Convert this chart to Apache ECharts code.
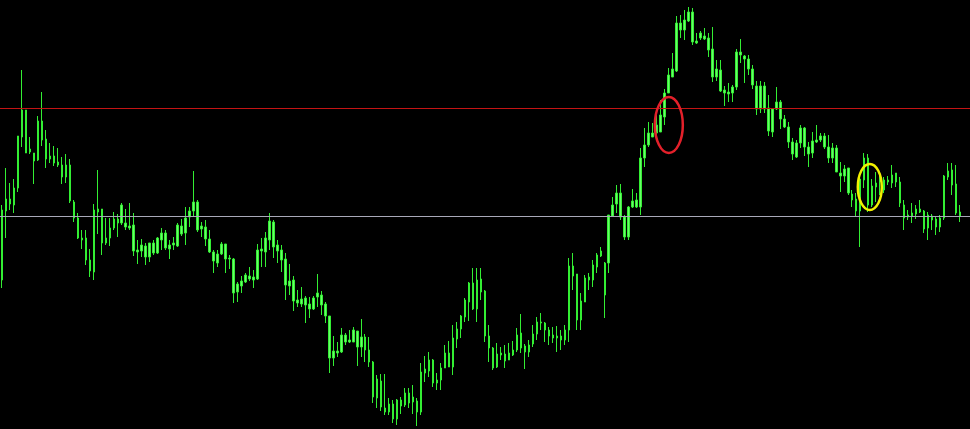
<!DOCTYPE html>
<html>
<head>
<meta charset="utf-8">
<script src="https://cdn.jsdelivr.net/npm/echarts@6/dist/echarts.min.js"></script>
<style>
html,body{margin:0;padding:0;background:#000;}
#chart{width:970px;height:429px;}
</style>
</head>
<body>
<div id="chart"></div>
<script>
// Candle values (price units, higher = up)
const open = [
149,218,225,224,241,292,319,280,276,269,
308,290,270,273,267,264,252,264,227,211,
191,191,169,157,217,220,186,191,201,210,
206,206,203,204,179,178,183,172,176,176,
189,196,180,184,183,203,196,212,218,227,
200,202,190,177,166,175,185,170,170,137,
143,147,153,149,150,178,177,189,207,184,
179,170,143,149,129,125,131,125,120,132,
134,125,113,71,78,77,94,87,87,98,
82,92,79,67,31,48,21,17,25,10,
29,24,36,27,28,17,56,58,69,46,
49,61,76,62,90,100,112,127,146,120,
150,138,93,81,62,74,75,69,74,79,
96,83,77,85,95,107,106,99,94,91,
93,89,99,163,155,109,127,149,149,162,
173,166,166,213,225,236,212,192,222,229,
222,271,284,296,296,297,312,336,352,358,
406,399,408,417,388,391,393,391,380,352,
359,339,335,336,342,377,373,370,360,343,
320,343,321,297,320,327,310,302,287,272,
286,301,282,276,287,289,293,282,271,281,
256,253,261,235,230,218,249,271,224,242,
247,249,247,246,247,247,224,212,216,215,
220,218,201,213,210,202,211,252,259,245,217
];
const close = [
219,230,230,241,293,319,276,277,268,308,
289,270,273,266,264,252,264,228,211,191,
189,169,158,219,220,186,191,201,210,206,
224,202,201,178,177,184,172,186,186,191,
196,181,184,186,204,195,211,218,227,199,
203,190,177,168,175,185,170,171,136,145,
148,154,150,152,179,180,191,208,182,178,
169,144,148,128,126,130,124,120,131,136,
124,113,71,78,76,94,87,89,99,82,
92,79,67,32,50,22,17,25,10,29,
23,36,26,32,17,57,60,69,46,49,
61,76,62,91,100,113,129,146,120,149,
137,93,81,61,75,76,68,76,79,94,
81,77,84,95,107,106,99,93,91,93,
89,99,163,153,109,128,151,152,164,174,
178,134,214,224,236,212,192,222,228,222,
271,284,296,292,304,314,336,354,360,406,
399,409,417,387,386,396,390,379,352,360,
338,336,337,342,377,374,370,360,344,320,
343,320,298,320,327,310,302,287,275,286,
301,282,275,288,289,293,282,271,281,257,
253,260,236,229,218,250,271,224,243,246,
249,239,249,254,256,226,211,214,213,220,
217,200,214,209,202,211,253,258,244,216,213
];
const low = [
141,191,219,216,237,282,276,275,245,268,
283,261,266,263,262,245,246,226,207,190,
180,164,152,149,195,174,184,183,199,192,
204,199,199,173,165,172,164,167,174,175,
179,179,170,179,182,193,184,202,212,197,
192,183,176,156,162,174,156,160,126,127,
136,146,148,141,149,162,162,179,171,166,
157,129,134,118,122,122,106,111,119,122,
114,106,56,63,72,76,84,86,87,63,
72,67,62,26,21,18,14,14,6,4,
15,22,21,15,3,14,47,52,42,39,
39,64,63,54,81,91,107,108,119,107,
129,87,67,59,61,69,61,69,73,77,
76,60,72,82,89,99,87,84,86,77,
79,84,87,139,99,99,127,139,142,156,
172,111,156,212,216,209,189,189,221,221,
214,262,282,292,292,297,304,336,352,357,
391,389,407,384,385,389,389,372,347,348,
337,323,327,327,339,366,346,354,340,314,
316,316,293,292,319,300,301,281,269,271,
281,273,262,271,286,287,280,266,266,257,
237,247,234,222,212,182,241,217,222,227,
234,236,244,241,242,222,199,209,206,210,
216,196,189,199,194,197,209,249,234,214,207
];
const high = [
224,261,246,250,293,359,319,292,276,313,
337,299,286,283,281,272,275,270,229,216,
199,199,180,225,259,220,211,211,217,215,
226,220,226,216,189,190,186,186,189,192,
201,199,189,192,206,210,222,222,258,229,
207,209,199,179,179,187,185,174,171,147,
153,156,162,159,185,191,197,216,209,189,
184,176,165,153,139,142,133,132,133,155,
138,127,113,93,87,101,96,99,102,98,
110,95,92,68,54,55,55,31,29,30,
32,41,41,44,31,66,73,77,70,56,
66,84,88,104,107,114,131,147,161,161,
161,139,104,82,86,82,84,86,88,101,
115,85,89,104,112,116,107,102,102,103,
99,104,171,176,155,136,154,156,169,176,
182,167,214,232,244,245,214,223,240,236,
281,301,307,306,314,329,340,361,376,413,
414,419,422,421,396,398,401,396,402,369,
369,343,346,344,380,390,374,374,364,348,
348,347,334,321,342,329,314,307,291,289,
304,302,287,297,304,296,296,294,286,284,
267,264,261,239,236,253,276,275,250,257,
256,252,253,264,256,252,229,219,226,224,
229,219,217,215,212,214,254,266,266,264,224
];
// two trailing empty slots (chart shift on the right)
const categories = open.map((_, i) => 'Bar ' + (i + 1)).concat(['', ' ']);

// Horizontal levels
const resistanceLevel = 320.5;
const supportLevel = 213;

// Ellipse annotations
const annotations = [
  {bar: 167, price: 304, dx: 0.2, rx: 14, ry: 28, color: '#e3202a'},
  {bar: 217, price: 242, dx: 1.6, rx: 12, ry: 23, color: '#f2f000'}
];

const candleData = open.map((o, i) => [o, close[i], low[i], high[i]]);

const chart = echarts.init(document.getElementById('chart'), null, {renderer: 'canvas'});
const option = {
  backgroundColor: '#000000',
  animation: false,
  grid: {left: -2.7, right: 0, top: 0, bottom: 0, containLabel: false},
  xAxis: {
    type: 'category', data: categories, boundaryGap: true,
    show: false
  },
  yAxis: {
    type: 'value', min: 0, max: 429, show: false, splitLine: {show: false}
  },
  series: [{
    type: 'candlestick',
    data: candleData,
    barWidth: 2,
    itemStyle: {
      color: '#6afc6a', color0: '#6afc6a',
      borderColor: '#33ee33', borderColor0: '#33ee33',
      borderWidth: 1
    },
    markLine: {
      silent: true, symbol: ['none', 'none'], label: {show: false},
      animation: false,
      data: [
        {yAxis: resistanceLevel, lineStyle: {color: '#c41414', width: 1, type: 'solid'}},
        {yAxis: supportLevel, lineStyle: {color: '#a8a8b8', width: 1, type: 'solid'}}
      ]
    }
  }]
};
chart.setOption(option);

const graphics = annotations.map(a => {
  const p = chart.convertToPixel({gridIndex: 0}, [a.bar, a.price]);
  return {
    type: 'ellipse',
    shape: {cx: p[0] + a.dx, cy: p[1], rx: a.rx, ry: a.ry},
    style: {fill: 'none', stroke: a.color, lineWidth: 2.5},
    z: 100
  };
});
chart.setOption({graphic: graphics});
</script>
</body>
</html>
